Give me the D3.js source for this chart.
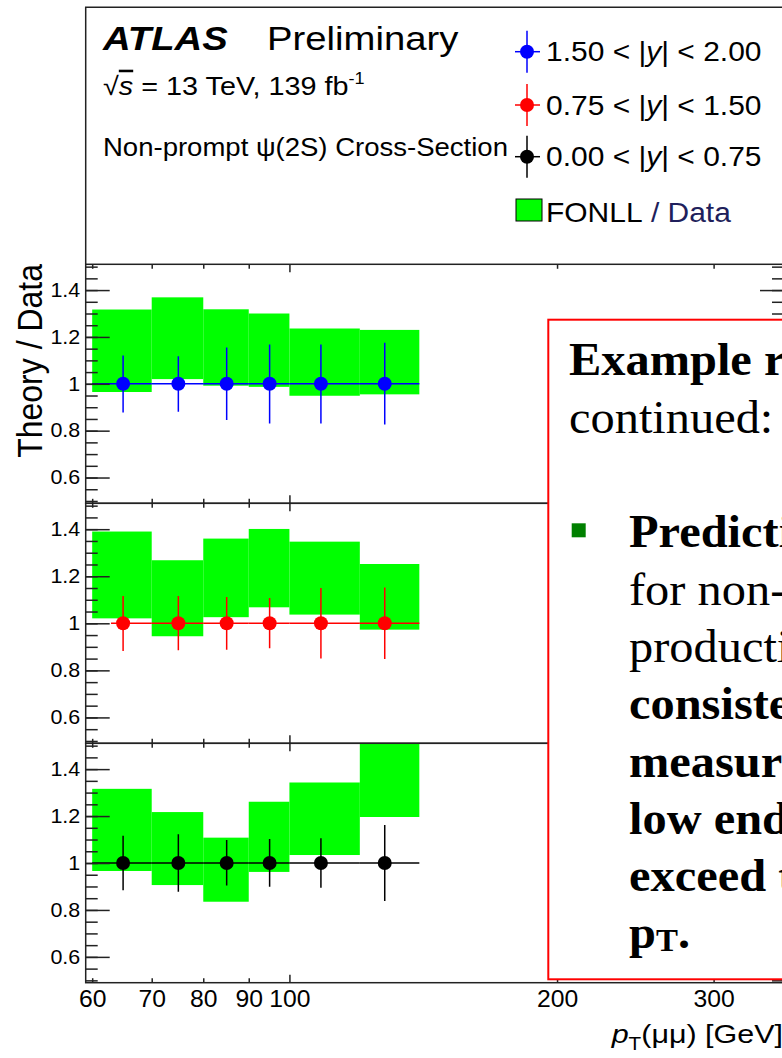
<!DOCTYPE html>
<html><head><meta charset="utf-8">
<script src="https://cdn.jsdelivr.net/npm/d3@7"></script>
<style>html,body{margin:0;padding:0;background:#fff;overflow:hidden}</style>
</head><body>
<script>
// ---------------- data ----------------
const binEdges = [60, 70, 80, 90, 100, 120, 140];
const ptCentres = [65, 75, 85, 95, 108.5, 128];
const seriesNames = ["1.50 < |y| < 2.00", "0.75 < |y| < 1.50", "0.00 < |y| < 0.75"];
const seriesColors = ["#0000ff", "#ff0000", "#000000"];

// data / data = 1 in every bin
const ratioHigh = [1, 1, 1, 1, 1, 1];
const ratioMid  = [1, 1, 1, 1, 1, 1];
const ratioLow  = [1, 1, 1, 1, 1, 1];
// data uncertainty (relative)
const errLoHigh = [0.878, 0.881, 0.845, 0.831, 0.831, 0.826];
const errHiHigh = [1.121, 1.118, 1.155, 1.168, 1.168, 1.175];
const errLoMid  = [0.882, 0.885, 0.888, 0.894, 0.850, 0.848];
const errHiMid  = [1.116, 1.116, 1.112, 1.108, 1.150, 1.152];
const errLoLow  = [0.884, 0.878, 0.904, 0.899, 0.895, 0.838];
const errHiLow  = [1.116, 1.122, 1.098, 1.102, 1.105, 1.162];
// lower horizontal extent of the data points
const xLoHigh = [60, 70, 80, 90, 100, 120];
const xLoMid  = [63, 70, 80, 90, 100, 120];
const xLoLow  = [60, 70, 80, 90, 100, 120];
// FONLL / Data band
const fonllLoHigh = [0.965, 1.020, 0.992, 0.987, 0.949, 0.955];
const fonllHiHigh = [1.317, 1.369, 1.318, 1.300, 1.236, 1.230];
const fonllLoMid  = [1.021, 0.945, 1.026, 1.068, 1.037, 0.973];
const fonllHiMid  = [1.390, 1.268, 1.360, 1.401, 1.347, 1.252];
const fonllLoLow  = [0.966, 0.906, 0.835, 0.962, 1.034, 1.196];
const fonllHiLow  = [1.316, 1.217, 1.108, 1.261, 1.343, 1.620];

const yMajorTicks = [0.6, 0.8, 1.0, 1.2, 1.4];
const yTickLabels = ["0.6", "0.8", "1", "1.2", "1.4"];
const xTickValues = [60, 70, 80, 90, 100, 200, 300];
const xTickLabels = ["60", "70", "80", "90", "100", "200", "300"];

const noteLines = [
  {t: "Example results", bold: true},
  {t: "continued:", bold: false},
  {t: "Predictions", bold: true},
  {t: "for non-prompt", bold: false},
  {t: "production are", bold: false},
  {t: "consistent with", bold: true},
  {t: "measurements at the", bold: true},
  {t: "low end but", bold: true},
  {t: "exceed them at high", bold: true},
  {t: "pT.", bold: true}
];

// ---------------- layout ----------------
const W = 782, H = 1058;
const SANS = "'Liberation Sans', Arial, Helvetica, sans-serif";
const SERIF = "'Liberation Serif', 'Times New Roman', serif";
const frameColor = "#222";
const L = 85.7, R = 784;
const panelTop = [264.3, 503.3, 743.3];
const panelBottom = [503.3, 743.3, 982.7];

const svg = d3.select("body").append("svg")
  .attr("width", W).attr("height", H).style("overflow", "hidden")
  .style("font-family", SANS);

const x = d3.scaleLog().domain([59, 360]).range([L, R]);

const series = [
  {ratio: ratioHigh, lo: errLoHigh, hi: errHiHigh, xlo: xLoHigh, fl: fonllLoHigh, fh: fonllHiHigh},
  {ratio: ratioMid,  lo: errLoMid,  hi: errHiMid,  xlo: xLoMid,  fl: fonllLoMid,  fh: fonllHiMid},
  {ratio: ratioLow,  lo: errLoLow,  hi: errHiLow,  xlo: xLoLow,  fl: fonllLoLow,  fh: fonllHiLow}
];

// top pad frame
svg.append("path").attr("d", `M${L},${panelTop[0]}V7.3H${W + 20}`)
  .attr("fill", "none").attr("stroke", frameColor).attr("stroke-width", 1.5);

series.forEach((s, p) => {
  const y = d3.scaleLinear().domain([0.49, 1.51]).range([panelBottom[p], panelTop[p]]);
  const col = seriesColors[p];
  const clipId = "clip" + p;
  svg.append("clipPath").attr("id", clipId).append("rect")
    .attr("x", L).attr("y", panelTop[p]).attr("width", R - L).attr("height", panelBottom[p] - panelTop[p]);
  const g = svg.append("g");
  const gc = g.append("g").attr("clip-path", `url(#${clipId})`);

  gc.selectAll("rect.band").data(d3.range(ptCentres.length)).join("rect")
    .attr("class", "band")
    .attr("x", i => x(binEdges[i])).attr("width", i => x(binEdges[i + 1]) - x(binEdges[i]))
    .attr("y", i => y(s.fh[i])).attr("height", i => y(s.fl[i]) - y(s.fh[i]))
    .attr("fill", "#00ff00");

  gc.selectAll("line.h").data(d3.range(ptCentres.length)).join("line")
    .attr("x1", i => x(s.xlo[i])).attr("x2", i => x(binEdges[i + 1]))
    .attr("y1", i => y(s.ratio[i])).attr("y2", i => y(s.ratio[i]))
    .attr("stroke", col).attr("stroke-width", 1.5);
  gc.selectAll("line.v").data(d3.range(ptCentres.length)).join("line")
    .attr("x1", i => x(ptCentres[i])).attr("x2", i => x(ptCentres[i]))
    .attr("y1", i => y(s.lo[i])).attr("y2", i => y(s.hi[i]))
    .attr("stroke", col).attr("stroke-width", 1.5);
  gc.selectAll("circle").data(d3.range(ptCentres.length)).join("circle")
    .attr("cx", i => x(ptCentres[i])).attr("cy", i => y(s.ratio[i])).attr("r", 7)
    .attr("fill", col);

  const minor = d3.range(0.5, 1.5001, 0.05);
  const styleAxis = sel => {
    sel.select(".domain").remove();
    sel.selectAll(".tick line").attr("stroke", frameColor).attr("stroke-width", 1.5);
  };
  g.append("g").attr("transform", `translate(${L},0)`)
    .call(d3.axisLeft(y).tickValues(minor).tickSize(-12).tickFormat(""))
    .call(styleAxis);
  g.append("g").attr("transform", `translate(${L},0)`)
    .call(d3.axisLeft(y).tickValues(yMajorTicks).tickSize(-24).tickPadding(5)
      .tickFormat((d, i) => yTickLabels[i]))
    .call(styleAxis)
    .call(a => a.selectAll(".tick text").attr("fill", "#000")
      .style("font-size", "19.5px").style("font-family", SANS)
      .attr("transform", "scale(1.1,1)"));
  g.append("g").attr("transform", `translate(${R},0)`)
    .call(d3.axisRight(y).tickValues(minor).tickSize(-12).tickFormat(""))
    .call(styleAxis);
  g.append("g").attr("transform", `translate(${R},0)`)
    .call(d3.axisRight(y).tickValues(yMajorTicks).tickSize(-24).tickFormat(""))
    .call(styleAxis);

  const small = xTickValues.filter(v => v !== 100);
  [[panelBottom[p], d3.axisBottom], [panelTop[p], d3.axisTop]].forEach(([yy, ax]) => {
    g.append("g").attr("transform", `translate(0,${yy})`)
      .call(ax(x).tickValues(small).tickSize(-4.5).tickFormat("")).call(styleAxis);
    g.append("g").attr("transform", `translate(0,${yy})`)
      .call(ax(x).tickValues([100]).tickSize(-8).tickFormat("")).call(styleAxis);
  });

  g.append("rect").attr("x", L).attr("y", panelTop[p])
    .attr("width", R - L).attr("height", panelBottom[p] - panelTop[p])
    .attr("fill", "none").attr("stroke", frameColor).attr("stroke-width", 1.5);
});

// x tick labels
svg.append("g").attr("transform", `translate(0,${panelBottom[2]})`)
  .call(d3.axisBottom(x).tickValues(xTickValues).tickSize(0).tickPadding(7.5)
    .tickFormat((d, i) => xTickLabels[i]))
  .call(a => a.select(".domain").remove())
  .call(a => a.selectAll(".tick text").attr("fill", "#000")
    .style("font-size", "24px").style("font-family", SANS)
    .attr("transform", "scale(1.03,1)"));

// axis titles
const xt = svg.append("text").attr("transform", "translate(783,1043) scale(1.15,1)")
  .attr("text-anchor", "end").style("font-size", "26.5px");
xt.append("tspan").text("p").style("font-style", "italic");
xt.append("tspan").text("T").style("font-size", "18px").attr("dy", 7);
xt.append("tspan").text("(μμ) [GeV]").attr("dy", -7);

svg.append("text").attr("transform", "translate(42,264) rotate(-90) scale(1,1.12)")
  .attr("text-anchor", "end").style("font-size", "32px").text("Theory / Data");

// ATLAS labels
svg.append("text").attr("transform", "translate(103,50) scale(1.16,1)")
  .style("font-size", "33px").style("font-weight", "bold").style("font-style", "italic").text("ATLAS");
svg.append("text").attr("transform", "translate(267,50) scale(1.16,1)")
  .style("font-size", "33px").text("Preliminary");
const en = svg.append("text").attr("transform", "translate(103,95) scale(1.13,1)").style("font-size", "25.5px");
en.append("tspan").text("√");
en.append("tspan").text("s").style("font-style", "italic").style("text-decoration", "overline");
en.append("tspan").text(" = 13 TeV, 139 fb");
en.append("tspan").text("-1").style("font-size", "16px").attr("dy", -11);
svg.append("text").attr("transform", "translate(103,156) scale(1.08,1)")
  .style("font-size", "25.5px").text("Non-prompt ψ(2S) Cross-Section");

// legend
const legY = [51.7, 105, 156.7];
const lg = svg.append("g");
seriesNames.forEach((name, i) => {
  const cy = legY[i], col = seriesColors[i];
  lg.append("line").attr("x1", 527).attr("x2", 527).attr("y1", cy - 21).attr("y2", cy + 21)
    .attr("stroke", col).attr("stroke-width", 1.5);
  lg.append("line").attr("x1", 515).attr("x2", 540).attr("y1", cy).attr("y2", cy)
    .attr("stroke", col).attr("stroke-width", 1.5);
  lg.append("circle").attr("cx", 527).attr("cy", cy).attr("r", 7).attr("fill", col);
  const t = lg.append("text").attr("transform", `translate(546,${cy + 9.5}) scale(1.09,1)`)
    .style("font-size", "27.5px");
  const parts = name.split("y");
  t.append("tspan").text(parts[0]);
  t.append("tspan").text("y").style("font-style", "italic");
  t.append("tspan").text(parts[1]);
});
lg.append("rect").attr("x", 516).attr("y", 199).attr("width", 26).attr("height", 22)
  .attr("fill", "#00ff00").attr("stroke", "#000").attr("stroke-width", 1);
const ft = lg.append("text").attr("transform", "translate(546,222) scale(1.09,1)").style("font-size", "27.5px");
ft.append("tspan").text("FONLL");
ft.append("tspan").text(" / Data").attr("fill", "#1f1f5c");

// overlay note box
svg.append("rect").attr("x", 548.3).attr("y", 319.7).attr("width", 300).attr("height", 979.3 - 319.7)
  .attr("fill", "#fff").attr("stroke", "#ff0000").attr("stroke-width", 2);
const noteBase = [375, 433, 547.3, 604.6, 661.9, 719.2, 776.5, 833.8, 891.1, 948.4];
noteLines.forEach((ln, i) => {
  const x0 = i < 2 ? 569 : 629;
  const t = svg.append("text").attr("transform", `translate(${x0},${noteBase[i]}) scale(1.03,1)`)
    .style("font-family", SERIF).style("font-size", "47px")
    .style("font-weight", ln.bold ? "bold" : "normal");
  if (ln.t === "pT.") {
    t.append("tspan").text("p");
    t.append("tspan").text("T").style("font-size", "32px").attr("dy", 3);
    t.append("tspan").text(".").attr("dy", -3);
  } else t.text(ln.t);
});
svg.append("rect").attr("x", 571.7).attr("y", 523.3).attr("width", 14).attr("height", 14).attr("fill", "#008000");
</script>
</body></html>
